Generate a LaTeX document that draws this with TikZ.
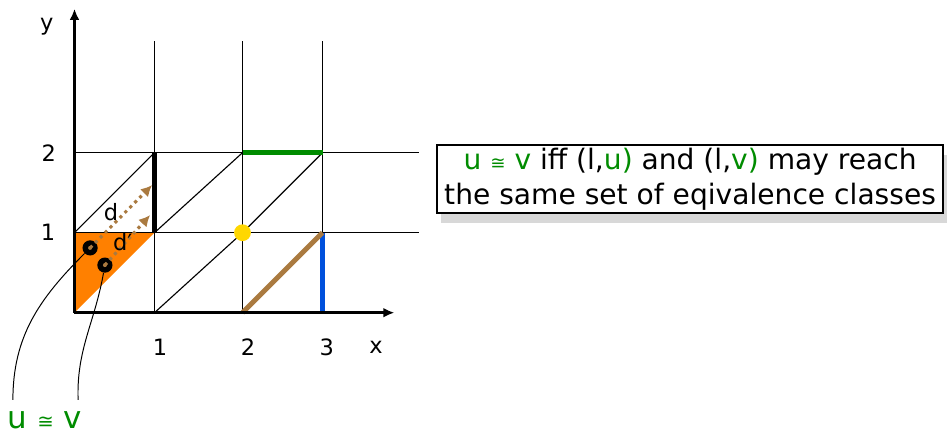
\documentclass[tikz,border=0pt]{standalone}
\usepackage{fontspec}
\setmainfont{DejaVu Sans}
\usepackage{xcolor}
\usetikzlibrary{arrows,arrows.meta,shapes,positioning,calc,shadows}
\definecolor{grn}{RGB}{0,140,0}
\definecolor{org}{RGB}{255,128,0}
\definecolor{brn}{RGB}{170,122,64}
\definecolor{blu}{RGB}{0,80,220}
\definecolor{ylw}{RGB}{255,215,0}

\begin{document}
\begin{tikzpicture}[
  grid/.style={line width=0.8pt},
  axis/.style={-{Latex[length=8pt,width=7pt]},line width=2pt},
  tick/.style={font=\fontsize{16}{16}\selectfont},
  pt/.style={circle,fill=black,inner sep=0pt,minimum size=0.38cm},
  darr/.style={-{Latex[length=8pt,width=8pt]},dash pattern=on 2.2pt off 2.8pt,line width=2.2pt,brn},
  box/.style={draw,fill=white,line width=1pt,align=center,inner sep=0pt,
    minimum width=12.65cm,minimum height=1.7cm,
    font=\fontsize{20}{25}\selectfont,
    drop shadow={shadow xshift=3pt,shadow yshift=-7pt,fill=black!30}}]
\useasboundingbox (-1.8625,-3.0825) rectangle (21.8375,7.8175);

% cells
\fill[org] (0,0) -- (0,2) -- (2,2) -- cycle;
\foreach \x in {2,4.2,6.2} \draw[grid] (\x,0) -- (\x,6.8);
\foreach \y in {2,4} \draw[grid] (0,\y) -- (8.6,\y);
\draw[grid] (0,2) -- (2,4);
\draw[grid] (2,0) -- (4.2,2);
\draw[grid] (2,2) -- (4.2,4);
\draw[grid] (4.2,2) -- (6.2,4);

% classes
\draw[line width=3pt] (2,2) -- (2,4);
\draw[grn,line width=3.5pt] (4.2,4) -- (6.2,4);
\draw[blu,line width=3.5pt] (6.2,0) -- (6.2,2);
\draw[brn,line width=3.5pt] (4.2,0) -- (6.2,2);
\fill[ylw] (4.2,2) circle (0.21);

% axes
\coordinate (O) at (0,0);
\coordinate (xend) at (8,0);
\coordinate (yend) at (0,7.6);
\draw[axis] (O) -- (xend);
\draw[axis] (O) -- (yend);
\node[tick] (x1) at (2.14,-0.86) {1};
\node[tick] (x2) at (4.34,-0.86) {2};
\node[tick] (x3) at (6.31,-0.86) {3};
\node[tick] (xl) at (7.54,-0.86) {x};
\node[tick] (y1) at (-0.66,2.0) {1};
\node[tick] (y2) at (-0.64,4.0) {2};
\node[tick] (yl) at (-0.69,7.14) {y};

% valuations u and v
\node[pt] (u) at (0.39,1.62) {};
\node[pt] (v) at (0.76,1.19) {};
\fill[brn] (u.center) circle (0.05);
\fill[brn] (v.center) circle (0.05);
\coordinate (ua) at (1.94,3.19);
\coordinate (va) at (1.89,2.44);
\draw[darr] (u.center) -- (ua);
\draw[darr] (v.center) -- (va);
\node[font=\fontsize{16}{16}\selectfont] (d) at (0.91,2.52) {d};
\node[font=\fontsize{16}{16}\selectfont] (dd) at (1.21,1.77) {d′};

% label
\node[grn,font=\fontsize{22}{22}\selectfont] (uv) at (-0.74,-2.68) {u {\fontsize{14}{14}\selectfont≅} v};
\coordinate (uend) at (-1.54,-2.18);
\coordinate (vend) at (0.09,-2.18);
\draw[line width=0.7pt] (u) to[out=225,in=90] (uend);
\draw[line width=0.7pt] (v) to[out=260,in=92] (vend);

\node[box] (txt) at (15.39,3.34) {\textcolor{grn}{u {\fontsize{13}{13}\selectfont≅} v} iff (l,\textcolor{grn}{u)} and (l,\textcolor{grn}{v)} may reach\\the same set of eqivalence classes};
\end{tikzpicture}
\end{document}
